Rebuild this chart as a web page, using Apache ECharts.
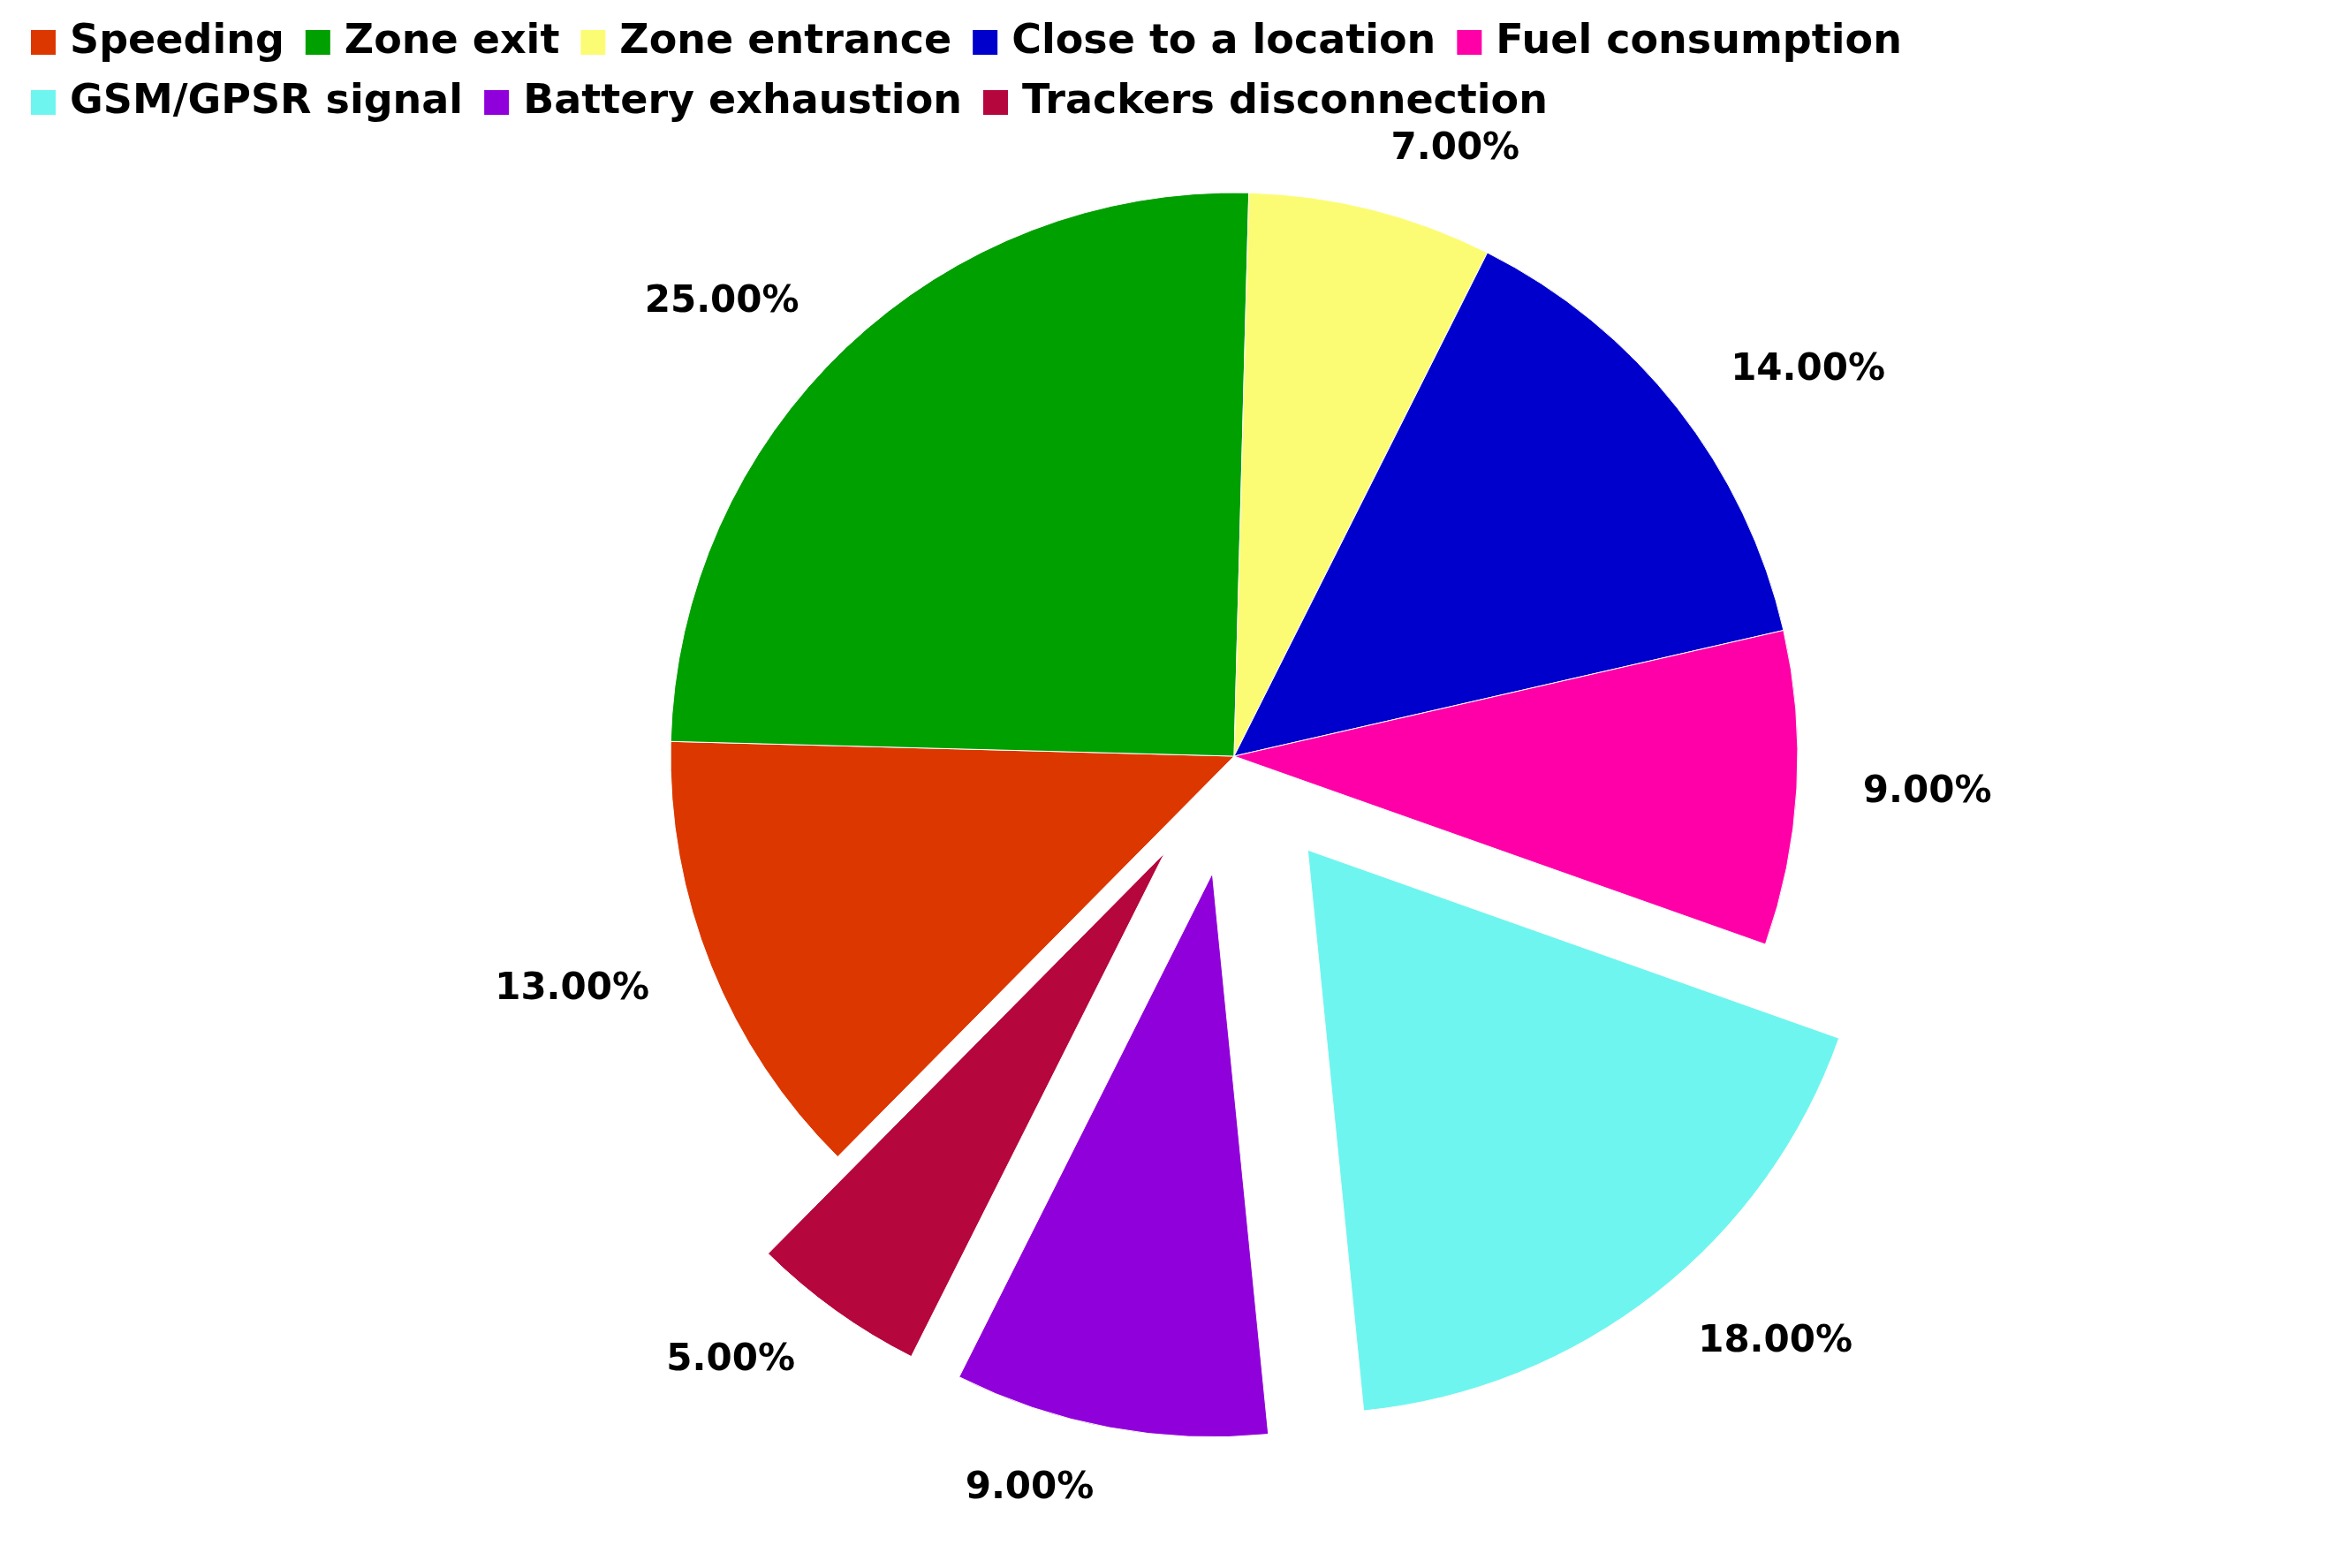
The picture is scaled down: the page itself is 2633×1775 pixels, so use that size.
<!DOCTYPE html>
<html lang="en">
<head>
    <meta charset="UTF-8">
    <title>Alerts</title>
    <script src="https://cdn.jsdelivr.net/npm/echarts@6/dist/echarts.min.js"></script>
    <style>
        html, body { margin: 0; padding: 0; background: #fff; }
        #main { width: 2633px; height: 1775px; }
    </style>
</head>
<body>
<div id="main"></div>
<script type="text/javascript">
    var categories = ['Speeding', 'Zone exit', 'Zone entrance', 'Close to a location', 'Fuel consumption',
        'GSM/GPSR signal', 'Battery exhaustion', 'Trackers disconnection'];
    var values = [13, 25, 7, 14, 9, 18, 9, 5];
    var exploded = [false, false, false, false, false, true, true, true];
    var colors = ['#dd3700', '#00a000', '#fcfc74', '#0000cc', '#ff00a8', '#6ff5ef', '#9000da', '#b5063e'];

    var pieData = [];
    for (let i = 0; i < categories.length; i++) {
        pieData.push({
            name: categories[i],
            value: values[i],
            selected: exploded[i],
            itemStyle: {color: colors[i]}
        });
    }

    var myChart = echarts.init(document.getElementById('main'));
    var option = {
        backgroundColor: '#ffffff',
        legend: {
            left: 28,
            top: 20,
            width: 2625,
            itemWidth: 30,
            itemHeight: 30,
            itemGap: 22,
            icon: 'rect',
            selectedMode: false,
            textStyle: {
                fontFamily: 'DejaVu Sans',
                fontWeight: 'bold',
                fontSize: 46,
                color: '#000',
                padding: [0, 84, 0, 10]
            },
            data: categories
        },
        series: [{
            type: 'pie',
            center: [1397, 856],
            radius: [0, 638],
            startAngle: 225.3,
            selectedMode: 'multiple',
            selectedOffset: 135,
            itemStyle: {borderColor: '#ffffff', borderWidth: 1},
            label: {
                show: true,
                position: 'outside',
                formatter: function (p) { return p.value.toFixed(2) + '%'; },
                fontFamily: 'DejaVu Sans',
                fontWeight: 'bold',
                fontSize: 42,
                color: '#000'
            },
            labelLine: {show: false, length: 70, length2: 0},
            emphasis: {disabled: true},
            animation: false,
            data: pieData
        }]
    };
    myChart.setOption(option);
</script>
</body>
</html>
